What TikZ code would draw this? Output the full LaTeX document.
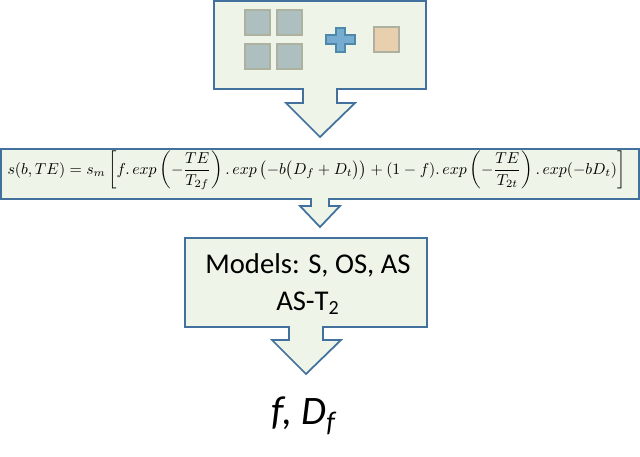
\documentclass[tikz,border=0pt]{standalone}
\usepackage{amsmath}
\usepackage{fontspec}
\setmainfont{Carlito}
\definecolor{panelfill}{HTML}{EEF4E8}
\definecolor{panelline}{HTML}{41719C}
\definecolor{tilefill}{HTML}{AEBFBF}
\definecolor{tileline}{HTML}{AFB1A0}
\definecolor{peachfill}{HTML}{E8CFAE}
\definecolor{plusfill}{HTML}{75ACCF}
\definecolor{plusline}{HTML}{4F88A8}
\tikzset{
  panel/.style={draw=panelline,fill=panelfill,line width=1pt,line join=miter},
  tile/.style={draw=tileline,fill=tilefill,line width=1.4pt},
}

\begin{document}
\begin{tikzpicture}[x=0.02cm,y=-0.02cm]
  \useasboundingbox (0,0) rectangle (640,457);
  % top panel
  \draw[panel] (214,1) -- (426,1) -- (426,89) -- (337,89) -- (337,103) -- (355,103) -- (320,137)
    -- (286,103) -- (303,103) -- (303,89) -- (214,89) -- cycle;
  \foreach \x in {245,277} {
    \foreach \y in {10,44} {
      \draw[tile] (\x,\y) rectangle ++(25,25);
    }
  }
  \draw[line width=1.3pt,draw=plusline,fill=plusfill] (336,28) -- (345,28) -- (345,35) -- (355,35) -- (355,44)
    -- (345,44) -- (345,52) -- (336,52) -- (336,44) -- (326,44) -- (326,35) -- (336,35) -- cycle;
  \draw[tile,fill=peachfill] (374,27) rectangle ++(25,25);
  % formula panel
  \draw[panel] (1,149) -- (639,149) -- (639,199) -- (329,199) -- (329,206) -- (340,206) -- (320,227)
    -- (300,206) -- (311,206) -- (311,199) -- (1,199) -- cycle;
  \node[inner sep=0pt] (formula) at (316.5,170.5) {\resizebox{12.36cm}{!}{$s(b,TE)=s_m\left[f.\,exp\left(-\dfrac{TE}{T_{2f}}\right).\,exp\left(-b\bigl(D_f+D_t\bigr)\right)+(1-f).\,exp\left(-\dfrac{TE}{T_{2t}}\right).\,exp(-bD_t)\right]$}};
  % models panel
  \draw[panel] (185,238) -- (427,238) -- (427,327) -- (323,327) -- (323,340) -- (341,340) -- (306,374)
    -- (272,340) -- (289,340) -- (289,327) -- (185,327) -- cycle;
  \node[font=\fontsize{16.3pt}{18pt}\selectfont,inner sep=0pt] (models) at (308,265) {Models: S, OS, AS};
  \node[font=\fontsize{16.3pt}{18pt}\selectfont,inner sep=0pt] (variant) at (308,303) {AS-T$_{\text{2}}$};
  % result
  \node[font=\fontsize{23pt}{26pt}\selectfont\itshape,inner sep=0pt] (result) at (304,416) {f, D$_{\text{\itshape f}}$};
\end{tikzpicture}
\end{document}
